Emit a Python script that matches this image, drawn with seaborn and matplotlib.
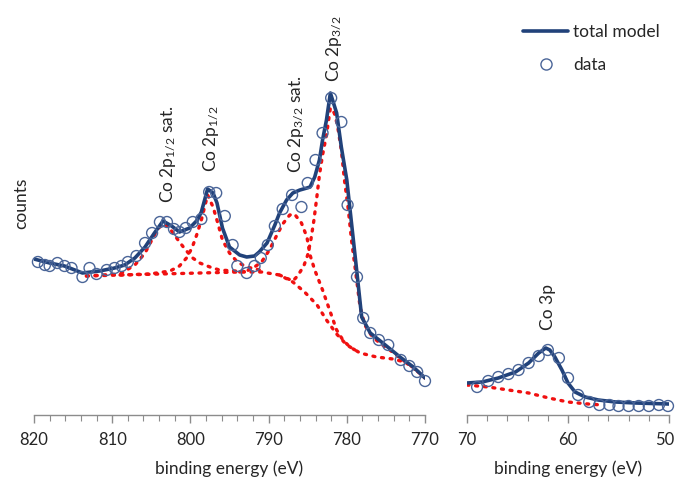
import matplotlib
matplotlib.use("Agg")
import matplotlib.pyplot as plt
import matplotlib.transforms as mtransforms
from matplotlib.lines import Line2D
from matplotlib.ticker import MultipleLocator
import seaborn as sns

# ---------------- data (binding energy in eV, counts in arbitrary units) -------------
left_model_E = [820.0, 818.0, 816.1, 813.8, 811.6, 809.7, 808.4, 807.1, 805.8, 804.6,
                803.5, 802.4, 801.4, 800.1, 799.1, 798.6, 797.8, 797.1, 796.6, 795.9,
                795.0, 793.7, 792.8, 791.8, 791.2, 790.2, 789.2, 788.6, 787.7, 786.9,
                786.0, 785.1, 784.7, 784.1, 783.5, 783.1, 782.6, 782.1, 781.3, 780.7,
                780.0, 779.4, 778.7, 778.1, 777.0, 775.4, 773.2, 771.5, 770.0]
left_model_counts = [156, 152, 149, 142, 144, 147, 150, 157, 168, 182,
                     194, 189, 183, 187, 195, 203, 226, 222, 212, 187,
                     168, 160, 158, 159, 163, 172, 190, 202, 215, 222,
                     225, 227, 228, 238, 255, 275, 295, 322, 302, 268,
                     235, 192, 142, 98, 82, 72, 58, 48, 37]

left_data_E = [819.5, 818.6, 818.0, 817.0, 816.1, 815.2, 813.8, 812.9, 812.0, 810.7,
               809.7, 808.8, 808.0, 806.9, 805.8, 804.9, 803.9, 803.0, 802.1, 801.4,
               800.6, 799.7, 798.6, 797.6, 796.7, 795.6, 794.6, 794.0, 792.8, 791.8,
               791.0, 790.1, 789.2, 788.2, 787.0, 785.8, 785.0, 784.0, 783.1, 782.0,
               780.7, 779.9, 778.7, 777.9, 777.0, 775.9, 774.7, 773.1, 772.0, 771.0,
               770.0]
left_data_counts = [153, 150, 149, 152, 149, 147, 138, 147, 141, 145,
                    147, 149, 153, 159, 172, 182, 193, 193, 186, 183,
                    187, 193, 196, 223, 222, 199, 170, 149, 142, 149,
                    157, 170, 189, 206, 220, 208, 232, 255, 282, 317,
                    293, 210, 138, 97, 82, 75, 70, 55, 49, 43,
                    34]

bg_E = [813.3, 809.0, 803.9, 798.8, 793.7, 790.9, 788.6, 786.9, 785.4, 783.8,
        782.6, 781.3, 780.0, 778.3, 776.2, 774.1, 772.6, 771.6, 770.0]
bg_counts = [139, 140, 141, 142, 143, 143, 140, 133, 123, 110,
             95, 81, 70, 62, 58, 56, 53, 48, 37]

sat12_E = [813.3, 809.0, 807.1, 805.8, 805.0, 804.2, 803.5, 802.9, 802.3, 801.4,
           800.6, 799.7, 798.8, 797.5, 796.3, 794.3, 792.4]
sat12_counts = [139, 141, 150, 162, 174, 186, 191, 189, 183, 173,
                165, 157, 152, 148, 145, 144, 143]

p12_E = [809.0, 805.2, 802.6, 801.4, 800.5, 799.8, 799.2, 798.6, 797.8, 797.1,
         796.5, 795.9, 795.0, 794.0, 792.8, 791.1]
p12_counts = [140, 141, 144, 149, 157, 167, 180, 195, 220, 208,
              192, 175, 162, 153, 148, 145]

sat32_E = [793.7, 792.8, 791.8, 790.9, 789.9, 789.0, 788.2, 787.3, 786.7, 785.8,
           785.1, 784.7, 784.1, 783.1, 782.2, 781.3, 780.5, 779.6, 778.3]
sat32_counts = [143, 144, 148, 153, 165, 179, 191, 200, 201, 192,
                178, 160, 145, 125, 105, 85, 75, 68, 62]

p32_E = [788.6, 786.9, 786.3, 785.5, 785.0, 784.6, 784.2, 783.8, 783.5, 783.1,
         782.6, 782.1, 781.6, 781.2, 780.7, 780.3, 779.8, 779.4, 778.9, 778.3,
         777.7, 776.8, 775.8, 774.5, 773.2, 771.6, 770.0]
p32_counts = [140, 134, 139, 149, 160, 175, 195, 220, 240, 260,
              280, 307, 302, 290, 265, 235, 205, 175, 145, 108,
              90, 79, 72, 65, 57, 48, 37]

right_model_E = [70.0, 68.5, 66.9, 65.2, 63.9, 62.9, 62.2, 61.8, 61.3, 60.6,
                 60.0, 59.3, 58.3, 57.0, 55.3, 53.3, 50.0]
right_model_counts = [32, 33, 37, 43, 52, 62, 67, 65, 58, 45,
                      32, 23, 18, 15, 13, 12, 11]

right_bg_E = [70.0, 67.9, 65.9, 63.9, 61.9, 60.0, 58.0, 56.6]
right_bg_counts = [30, 28, 25, 22, 17, 13, 11, 10]

right_data_E = [69.0, 67.9, 66.9, 65.9, 64.9, 63.9, 62.9, 62.0, 60.9, 60.0,
                59.0, 57.9, 56.9, 55.9, 55.0, 54.0, 53.0, 52.0, 51.0, 50.1]
right_data_counts = [28, 34, 38, 41, 45, 52, 59, 65, 57, 37,
                     20, 13, 10, 10, 9, 9, 9, 9, 10, 9]

left_ticks = [820, 810, 800, 790, 780, 770]
right_ticks = [70, 60, 50]

peak_labels = ["Co 2p$_{\\mathregular{1/2}}$ sat.", "Co 2p$_{\\mathregular{1/2}}$",
               "Co 2p$_{\\mathregular{3/2}}$ sat.", "Co 2p$_{\\mathregular{3/2}}$"]
peak_label_E = [802.9, 797.3, 786.5, 781.6]
peak_label_counts = [212, 243, 242, 333]
right_label = "Co 3p"
right_label_E = 62.0
right_label_counts = 85

# ---------------- style -------------
sns.set_style("white")
plt.rcParams["font.family"] = ["Lato", "DejaVu Sans"]
plt.rcParams["mathtext.fontset"] = "custom"
plt.rcParams["mathtext.rm"] = "Lato"
plt.rcParams["mathtext.it"] = "Lato:italic"
plt.rcParams["mathtext.bf"] = "Lato:bold"

NAVY = "#21427a"
CIRCLE = "#4a6598"
RED = "#f01010"
GRAY = "#8c8c8c"
FS = 12.5
TFS = 12

W, H = 677, 482
fig = plt.figure(figsize=(W / 100, H / 100), dpi=100)
ax1 = fig.add_axes([34 / W, 67 / H, 391 / W, 415 / H])
ax2 = fig.add_axes([467 / W, 67 / H, 202 / W, 415 / H])

dot_kw = dict(color=RED, linewidth=2.4, linestyle=(0, (0.6, 2.0)),
              dash_capstyle="round", legend=False, sort=False, zorder=2)
line_kw = dict(color=NAVY, linewidth=2.6, legend=False, sort=False, zorder=3)
sc_kw = dict(marker="o", s=62, facecolors="none", edgecolor=CIRCLE,
             linewidth=1.0, legend=False, zorder=4, clip_on=False)

for E, C in [(bg_E, bg_counts), (sat12_E, sat12_counts), (p12_E, p12_counts),
             (sat32_E, sat32_counts), (p32_E, p32_counts)]:
    sns.lineplot(x=E, y=C, ax=ax1, **dot_kw)
sns.lineplot(x=left_model_E, y=left_model_counts, ax=ax1, **line_kw)
sns.scatterplot(x=left_data_E, y=left_data_counts, ax=ax1, **sc_kw)

sns.lineplot(x=right_bg_E, y=right_bg_counts, ax=ax2, **dot_kw)
sns.lineplot(x=right_model_E, y=right_model_counts, ax=ax2, **line_kw)
sns.scatterplot(x=right_data_E, y=right_data_counts, ax=ax2, **sc_kw)

ax1.set_xlim(820, 770)
ax2.set_xlim(70, 50)
for ax, ticks in [(ax1, left_ticks), (ax2, right_ticks)]:
    ax.set_ylim(0, 415)
    ax.set_xticks(ticks)
    ax.xaxis.set_minor_locator(MultipleLocator(2))
    ax.set_yticks([])
    for s in ["top", "right", "left"]:
        ax.spines[s].set_visible(False)
    ax.spines["bottom"].set_color(GRAY)
    ax.spines["bottom"].set_linewidth(1.0)
    ax.tick_params(axis="x", which="major", direction="out", length=6, width=1.0,
                   color=GRAY, labelsize=TFS, pad=6, bottom=True)
    ax.tick_params(axis="x", which="minor", direction="out", length=4, width=0.8,
                   color=GRAY, bottom=True)
    ax.set_xlabel("binding energy (eV)", fontsize=FS, labelpad=9)
    ax.set_ylabel("")
    ax.patch.set_alpha(0)

# keep the last right-hand tick label inside the figure
fig.canvas.draw()
last = ax2.get_xticklabels()[-1]
last.set_transform(last.get_transform() +
                   mtransforms.ScaledTranslation(-4 / 100, 0, fig.dpi_scale_trans))

for lab, e, c in zip(peak_labels, peak_label_E, peak_label_counts):
    ax1.text(e, c, lab, rotation=90, ha="center", va="bottom", fontsize=FS)
ax2.text(right_label_E, right_label_counts, right_label, rotation=90,
         ha="center", va="bottom", fontsize=FS)

fig.text(21 / W, 1 - 203 / H, "counts", rotation=90, ha="center", va="center",
         fontsize=FS)

handles = [Line2D([], [], color=NAVY, linewidth=2.6),
           Line2D([], [], linestyle="none", marker="o", markersize=8,
                  markerfacecolor="none", markeredgecolor=CIRCLE, markeredgewidth=1.0)]
fig.legend(handles, ["total model", "data"], loc="upper left",
           bbox_to_anchor=(516 / W, 1 - 17 / H), bbox_transform=fig.transFigure,
           frameon=False, fontsize=FS, handlelength=2.6, handletextpad=0.3,
           labelspacing=1.0, borderaxespad=0)

fig.savefig("out.png", dpi=100)
